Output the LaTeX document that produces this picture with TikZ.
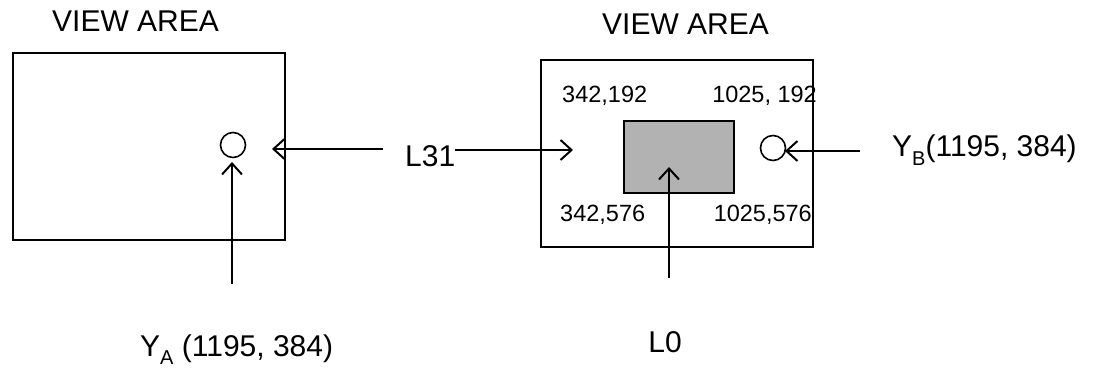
\documentclass[tikz,border=0pt]{standalone}
\usepackage{fontspec}
\setmainfont{Liberation Sans}
\usetikzlibrary{arrows.meta}
\definecolor{boxgray}{RGB}{178,178,178}
\begin{document}
\begin{tikzpicture}[x=1pt,y=-1pt,
  frame/.style={draw,line width=2pt},
  conn/.style={line width=2pt,-{Straight Barb[length=11pt,width=20pt,line width=2pt]}},
  big/.style={inner sep=0pt,font=\fontsize{30}{30}\selectfont},
  small/.style={inner sep=0pt,font=\fontsize{23.5}{24}\selectfont},
  ring/.style={circle,draw,line width=1.6pt,minimum size=25pt,inner sep=0pt}]
\useasboundingbox (0,0) rectangle (1096,371);
% left view
\node[big,anchor=base west] (va1) at (52,32) {VIEW AREA};
\draw[frame] (13,53) rectangle (285,240);
\node[ring] (ca) at (233,145) {};
% right view
\node[big,anchor=base west] (va2) at (602,35) {VIEW AREA};
\draw[frame] (541,60) rectangle (813,247);
\draw[line width=2pt,fill=boxgray] (624,121) rectangle (734,193);
\node[small,anchor=base west] (p1) at (562,103) {342,192};
\node[small,anchor=base east] (p2) at (817,103) {1025, 192};
\node[small,anchor=base west] (p3) at (560,222) {342,576};
\node[small,anchor=base east] (p4) at (812,222) {1025,576};
\node[ring] (cb) at (773,148) {};
% labels
\node[big,anchor=base west] (l31) at (405,167) {L31};
\node[big,anchor=base] (l0) at (665,353) {L0};
\node[big,anchor=base west] (ya) at (140,357) {Y\raisebox{-8pt}{\fontsize{20}{20}\selectfont A} (1195, 384)};
\node[big,anchor=base west] (yb) at (892,157) {Y\raisebox{-9pt}{\fontsize{20}{20}\selectfont B}(1195, 384)};
% connector ends
\coordinate (ta) at (272,149);
\coordinate (tb) at (573,150);
\coordinate (sa) at (383,149);
\coordinate (tc) at (785,151);
\coordinate (sc) at (860,151);
\coordinate (sv1) at (232,284);
\coordinate (tv1) at (232,162);
\coordinate (sv2) at (669,278);
\coordinate (tv2) at (669,167);
\draw[conn] (sa) -- (ta);
\draw[conn] (l31.east |- tb) -- (tb);
\draw[conn] (sc) -- (tc);
\draw[conn] (sv1) -- (tv1);
\draw[conn] (sv2) -- (tv2);
\end{tikzpicture}
\end{document}
